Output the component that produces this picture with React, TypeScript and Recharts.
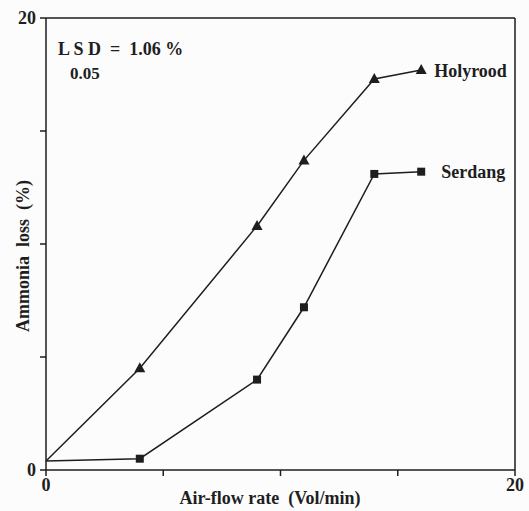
import { LineChart, Line, XAxis, YAxis, ReferenceLine, LabelList } from "recharts";

const airFlow = [0, 4, 9, 11, 14, 16];
const holyrood = [0.4, 4.5, 10.8, 13.7, 17.3, 17.7];
const serdang = [0.4, 0.5, 4.0, 7.2, 13.1, 13.2];
const axisTicks = [0, 5, 10, 15, 20];
const shownTicks = [0, 20];
const seriesNames = ["Holyrood", "Serdang"];

const data = airFlow.map((x, i) => ({ x, holyrood: holyrood[i], serdang: serdang[i] }));

const ink = "#1e1e1e";
const font = "'Liberation Serif', 'DejaVu Serif', serif";

// first point has no marker in the original
const Triangle = (props: any) => {
    const { cx, cy, index } = props;
    if (index === 0) return <g key={index} />;
    return <path key={index} d={`M${cx},${cy - 6} L${cx + 5.5},${cy + 4} L${cx - 5.5},${cy + 4} Z`} fill={ink} />;
};

const Square = (props: any) => {
    const { cx, cy, index } = props;
    if (index === 0) return <g key={index} />;
    return <rect key={index} x={cx - 4} y={cy - 4} width={8} height={8} fill={ink} />;
};

const endLabel = (name: string, dx: number, dy: number) => (props: any) => {
    const { x, y, index } = props;
    if (index !== data.length - 1) return null;
    return (
        <text x={x + dx} y={y + dy} fill={ink} fontFamily={font} fontWeight="bold" fontSize={18}>
            {name}
        </text>
    );
};

const fmt = (v: number) => (shownTicks.includes(v) ? String(v) : "");

const App = () => {
    return (
        <div style={{ position: "absolute", left: 0, top: 0, width: 529, height: 511, background: "#fcfcfc" }}>
            <LineChart width={529} height={511} data={data} margin={{ top: 18, right: 14, bottom: 0, left: 0 }}>
                <XAxis
                    dataKey="x"
                    type="number"
                    domain={[0, 20]}
                    ticks={axisTicks}
                    tickFormatter={fmt}
                    height={41}
                    stroke={ink}
                    strokeWidth={1.5}
                    tickSize={6}
                    tick={{ fill: ink, fontFamily: font, fontSize: 18, fontWeight: "bold" }}
                />
                <YAxis
                    type="number"
                    domain={[0, 20]}
                    ticks={axisTicks}
                    tickFormatter={fmt}
                    width={46}
                    stroke={ink}
                    strokeWidth={1.5}
                    tickSize={6}
                    tickMargin={4}
                    tick={{ fill: ink, fontFamily: font, fontSize: 18, fontWeight: "bold" }}
                />
                <ReferenceLine y={20} stroke={ink} strokeWidth={1.5} />
                <ReferenceLine x={20} stroke={ink} strokeWidth={1.5} />
                <Line
                    dataKey="holyrood"
                    stroke={ink}
                    strokeWidth={1.5}
                    dot={Triangle}
                    isAnimationActive={false}
                >
                    <LabelList dataKey="holyrood" content={endLabel(seriesNames[0], 13, 7)} />
                </Line>
                <Line
                    dataKey="serdang"
                    stroke={ink}
                    strokeWidth={1.5}
                    dot={Square}
                    isAnimationActive={false}
                >
                    <LabelList dataKey="serdang" content={endLabel(seriesNames[1], 20, 6)} />
                </Line>
            </LineChart>
            <svg
                width={529}
                height={511}
                style={{ position: "absolute", left: 0, top: 0, pointerEvents: "none" }}
                fontFamily={font}
                fontWeight="bold"
                fill={ink}
            >
                <text x={58} y={55} fontSize={18} xmlSpace="preserve">L S D  =  1.06 %</text>
                <text x={70} y={79} fontSize={17}>0.05</text>
                <text x={270} y={504} fontSize={18} textAnchor="middle" xmlSpace="preserve">
                    Air-flow rate  (Vol/min)
                </text>
                <text x={29} y={256} fontSize={18} textAnchor="middle" xmlSpace="preserve" transform="rotate(-90 29 256)">
                    Ammonia  loss  (%)
                </text>
            </svg>
        </div>
    );
};

export default App;
